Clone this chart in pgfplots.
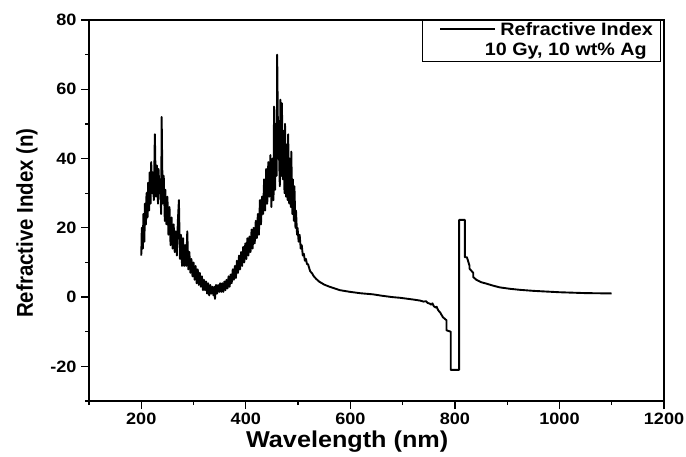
\documentclass[border=0pt]{standalone}
\usepackage{fontspec}
\setmainfont{Liberation Sans}[FakeStretch=1.1]
\newfontfamily\ylfont{Liberation Sans}
\usepackage{pgfplots}
\pgfplotsset{compat=1.18}
\begin{document}
\begin{tikzpicture}
\begin{axis}[
  scale only axis,
  width=575bp, height=381bp,
  at={(0,0)}, anchor=south west,
  xmin=100, xmax=1200, ymin=-30, ymax=80,
  xtick={200,400,...,1200}, minor xtick={100,300,...,1100},
  ytick={-20,0,...,80}, minor ytick={-30,-10,...,70},
  tick pos=left, tick align=outside,
  major tick length=8bp, minor tick length=4bp,
  tick style={black, line width=1.2pt},
  axis line style={line width=1.3pt},
  /pgf/number format/assume math mode=true,
  /pgf/number format/1000 sep={},
  ticklabel style={font=\fontsize{16.5}{16.5}\selectfont\bfseries},
  xticklabel style={yshift=-1bp},
  yticklabel style={xshift=-1bp},
  xlabel={\fontsize{23}{23}\selectfont\bfseries Wavelength (nm)},
  ylabel={\scalebox{1}[1.12]{\ylfont\fontsize{20.5}{20.5}\selectfont\bfseries Refractive Index (n)}},
  xlabel style={at={(ticklabel cs:0.449)}, yshift=1bp},
  ylabel style={at={(ticklabel cs:0.467)}, yshift=6bp},
  clip=false,
]
\addplot[black, line width=1.9pt, line join=round] table {
x y
200 12
201 20
203 14
204 24
206 16
207 27
209 21
210 30
212 23
213 33
215 25
216 36
218 27
219 39
221 30
222 36
224 28
226 47
228 29
230 38
232 27
233 37
235 30
236 34
238 24
239 52
241 27
243 35
245 22
246 31
248 21
250 29
252 18
254 26
256 15
258 23
260 14
262 21
264 13
266 19
268 12
270 22
272 28
274 11
276 18
278 9
280 17
282 9
284 15
286 9
288 19
290 8
292 13
294 7
296 11
298 6
300 10
302 5
304 9
306 4
308 8
310 3.5
312 7
314 3
316 6
318 2
320 5
322 2
324 4.5
326 1
328 4
330 0.5
332 3.5
334 1
336 3
338 0.5
340 3
341 -0.5
343 3.5
345 1
347 3.5
349 1.5
351 4
353 1.5
355 4
357 1.5
359 4.5
361 2
363 5
365 2.5
367 6
369 3
371 6.5
373 4
375 8
377 5
379 9
381 5.5
383 10.5
385 7
387 12
389 8
391 13
393 9
395 14.5
397 10
399 15.5
401 11
403 17
405 12
407 17.5
409 13
411 19.5
413 14
415 20
417 15.5
419 22
421 17
423 24
425 18
427 28
429 21
431 29
433 24
435 34
437 25
439 37
441 27
443 39
445 29
447 41
449 26
451 40
453 28
454 55
456 31
457 50
459 35
460 70
462 40
463 45
465 32
466 57
468 35
469 56
471 34
472 48
474 30
475 50
477 29
478 44
480 28
481 47
483 27
484 40
486 26
487 42
489 24
490 34
492 22
493 32
495 20
496 25
498 18
499 20
501 16
503 18
505 14
507 15
509 12
511 12.5
513 10.5
515 11
517 9.5
519 9.5
521 8.5
523 7.5
527 6.8
530 6
535 5.2
540 4.5
550 3.6
560 3.0
570 2.5
580 2.0
600 1.5
620 1.1
643 0.8
660 0.4
680 0.0
695 -0.2
710 -0.5
720 -0.7
733 -1.0
740 -1.3
745 -1.2
748 -1.7
752 -1.9
755 -2.2
757 -1.8
760 -2.7
763 -3.0
765 -2.8
768 -3.8
772 -4.5
777 -5.8
784 -6.7
784 -9.6
792 -10
792 -21
808 -21
808 22.3
819 22.3
819 11.5
823 11.5
828 9
828 8.2
835 7
835 5.8
841 5
850 4.3
860 3.9
873 3.3
886 2.8
905 2.4
924 2.1
950 1.8
975 1.6
1000 1.4
1050 1.15
1100 1.05
};
\node[draw=black, line width=0.7pt, fill=white, anchor=north east, inner xsep=8bp, inner ysep=2bp,
  align=right, font=\fontsize{18}{20}\selectfont\bfseries]
  at (rel axis cs:0.995,1)
  {\hspace*{10bp}\raisebox{0.3em}{\rule{55bp}{1.5pt}}\hspace{5bp}Refractive Index\\10 Gy, 10 wt\% Ag\hspace*{6bp}};
\end{axis}
\pgfresetboundingbox
\path (-89bp,-56bp) rectangle (597bp,401bp);
\end{tikzpicture}
\end{document}
